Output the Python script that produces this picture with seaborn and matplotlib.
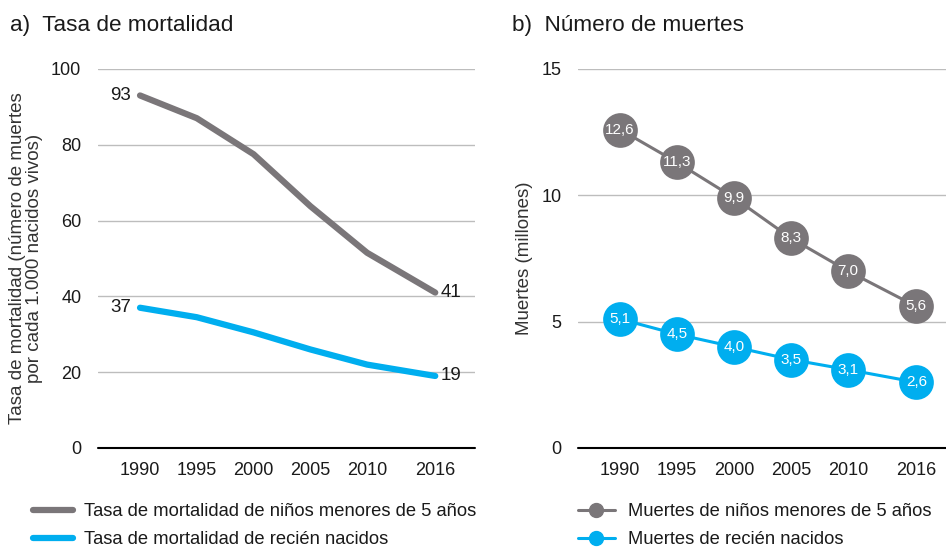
import pandas as pd
import matplotlib.pyplot as plt
import seaborn as sns
from matplotlib.lines import Line2D

# Data
years = [1990, 1995, 2000, 2005, 2010, 2016]
rate_under5 = [93, 87, 77.5, 63.8, 51.5, 41]
rate_newborn = [37, 34.5, 30.5, 26, 22, 19]
deaths_under5 = [12.6, 11.3, 9.9, 8.3, 7.0, 5.6]
deaths_newborn = [5.1, 4.5, 4.0, 3.5, 3.1, 2.6]

lab_rate_u5 = 'Tasa de mortalidad de niños menores de 5 años'
lab_rate_nb = 'Tasa de mortalidad de recién nacidos'
lab_d_u5 = 'Muertes de niños menores de 5 años'
lab_d_nb = 'Muertes de recién nacidos'

GRAY = '#7a7679'
BLUE = '#00aeef'

sns.set_style('white')
plt.rcParams['font.family'] = ['Liberation Sans', 'DejaVu Sans']
plt.rcParams['text.color'] = '#1a1a1a'

fig = plt.figure(figsize=(9.46, 5.47), dpi=100)
ax1 = fig.add_axes([0.1036, 0.181, 0.3985, 0.693])
ax2 = fig.add_axes([0.611, 0.181, 0.389, 0.693])

df_rate = pd.DataFrame({'year': years + years,
                        'value': rate_under5 + rate_newborn,
                        'serie': [lab_rate_u5] * 6 + [lab_rate_nb] * 6})
df_deaths = pd.DataFrame({'year': years + years,
                          'value': deaths_under5 + deaths_newborn,
                          'serie': [lab_d_u5] * 6 + [lab_d_nb] * 6})

# a) Tasa de mortalidad
sns.lineplot(data=df_rate, x='year', y='value', hue='serie',
             palette={lab_rate_u5: GRAY, lab_rate_nb: BLUE},
             linewidth=4.5, legend=False, ax=ax1, zorder=3)
ax1.set_xlim(1986.3, 2019.5)
ax1.set_ylim(0, 100)
ax1.set_yticks([0, 20, 40, 60, 80, 100])
ax1.set_xticks(years)
ax1.set_ylabel('Tasa de mortalidad (número de muertes\npor cada 1.000 nacidos vivos)',
               fontsize=13.5, color='#333333', labelpad=6, linespacing=1.0)
ax1.set_xlabel('')

ax1.text(years[0] - 0.8, rate_under5[0], f'{rate_under5[0]:.0f}', ha='right', va='center', fontsize=13.5)
ax1.text(years[0] - 0.8, rate_newborn[0], f'{rate_newborn[0]:.0f}', ha='right', va='center', fontsize=13.5)
ax1.text(years[-1] + 0.5, rate_under5[-1], f'{rate_under5[-1]:.0f}', ha='left', va='center', fontsize=13.5)
ax1.text(years[-1] + 0.5, rate_newborn[-1], f'{rate_newborn[-1]:.0f}', ha='left', va='center', fontsize=13.5)

# b) Número de muertes
sns.lineplot(data=df_deaths, x='year', y='value', hue='serie',
             palette={lab_d_u5: GRAY, lab_d_nb: BLUE},
             linewidth=2.2, marker='o', markersize=25, markeredgewidth=0,
             legend=False, ax=ax2, zorder=3)
ax2.set_xlim(1986.3, 2018.6)
ax2.set_ylim(0, 15)
ax2.set_yticks([0, 5, 10, 15])
ax2.set_xticks(years)
ax2.set_ylabel('Muertes (millones)', fontsize=13.5, color='#333333', labelpad=6)
ax2.set_xlabel('')
for x, a, b in zip(years, deaths_under5, deaths_newborn):
    ax2.text(x, a, f'{a:.1f}'.replace('.', ','), ha='center', va='center',
             fontsize=11, color='white', zorder=5)
    ax2.text(x, b, f'{b:.1f}'.replace('.', ','), ha='center', va='center',
             fontsize=11, color='white', zorder=5)

for ax in (ax1, ax2):
    for s in ax.spines.values():
        s.set_visible(False)
    ax.grid(axis='y', color='#bdbdbd', linewidth=1)
    ax.grid(axis='x', visible=False)
    ax.axhline(0, color='black', linewidth=1.5, zorder=2.5, clip_on=False)
    ax.tick_params(axis='both', length=0, labelsize=13, labelcolor='#1a1a1a')
    ax.tick_params(axis='y', pad=12)
    ax.tick_params(axis='x', pad=10)

fig.text(0.011, 0.953, 'a)  Tasa de mortalidad', fontsize=16.2, va='center')
fig.text(0.541, 0.953, 'b)  Número de muertes', fontsize=16.2, va='center')

h1 = [Line2D([], [], color=GRAY, linewidth=4.5),
      Line2D([], [], color=BLUE, linewidth=4.5)]
fig.legend(h1, [lab_rate_u5, lab_rate_nb], loc='upper left',
           bbox_to_anchor=(0.035, 0.08), frameon=False, fontsize=13.2,
           handlelength=2.15, handletextpad=0.6, labelspacing=0.6,
           borderaxespad=0, borderpad=0)
h2 = [Line2D([], [], color=GRAY, linewidth=2.2, marker='o', markersize=10),
      Line2D([], [], color=BLUE, linewidth=2.2, marker='o', markersize=10)]
fig.legend(h2, [lab_d_u5, lab_d_nb], loc='upper left',
           bbox_to_anchor=(0.611, 0.08), frameon=False, fontsize=13.2,
           handlelength=2.0, handletextpad=0.7, labelspacing=0.6,
           borderaxespad=0, borderpad=0)

fig.savefig('out.png', dpi=100)
